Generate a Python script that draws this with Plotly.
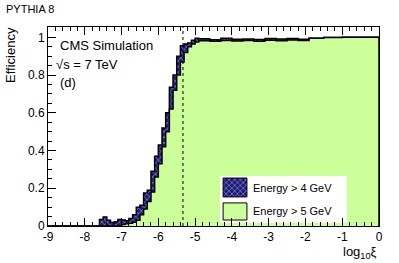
import plotly.graph_objects as go

# ---------------- data ----------------
bin_edges = [-9.0,
             -7.6, -7.5, -7.4, -7.3, -7.2, -7.1, -7.0, -6.9, -6.8, -6.7,
             -6.6, -6.5, -6.4, -6.3, -6.2, -6.1, -6.0, -5.9, -5.8, -5.7,
             -5.6, -5.5, -5.4, -5.3, -5.2, -5.1, -5.0, -4.9,
             -4.6, -4.3, -4.0, -3.7, -3.4, -3.1, -2.8, -2.5, -2.2, -1.9,
             -1.5, -1.0, 0.0]

eff_4gev = [0.0,
            0.035, 0.048, 0.030, 0.018, 0.022, 0.035, 0.032, 0.028, 0.040, 0.060,
            0.100, 0.110, 0.175, 0.190, 0.290, 0.370, 0.430, 0.520, 0.600, 0.735,
            0.800, 0.900, 0.955, 0.965, 0.970, 0.985, 0.995,
            0.993, 0.988, 0.995, 0.990, 0.992, 0.989, 0.994, 0.991, 0.994, 0.990,
            0.996, 0.999, 1.000]

eff_5gev = [0.0,
            0.0, 0.0, 0.0, 0.0, 0.0, 0.0, 0.008, 0.012, 0.015, 0.020,
            0.030, 0.060, 0.090, 0.130, 0.180, 0.260, 0.330, 0.420, 0.500, 0.620,
            0.720, 0.800, 0.870, 0.920, 0.950, 0.965, 0.975,
            0.982, 0.980, 0.984, 0.981, 0.983, 0.980, 0.985, 0.982, 0.986, 0.984,
            0.996, 0.999, 1.000]

cut_position = -5.33

x_tick_vals = [-9, -8, -7, -6, -5, -4, -3, -2, -1, 0]
x_tick_labels = ["-9", "-8", "-7", "-6", "-5", "-4", "-3", "-2", "-1", "0"]
y_tick_vals = [0, 0.2, 0.4, 0.6, 0.8, 1.0]
y_tick_labels = ["0", "0.2", "0.4", "0.6", "0.8", "1"]

series_names = ["Energy > 4 GeV", "Energy > 5 GeV"]

# ---------------- styles ----------------
FONT = "Liberation Sans, Arial, Helvetica, sans-serif"
NAVY = "#1c1c78"
HATCH_FG = "#dcdcff"
GREEN = "#ccff99"


def step_xy(edges, vals):
    xs = list(edges) + [edges[-1]]
    ys = list(vals) + [vals[-1], 0.0]
    return xs, ys


hatch = dict(shape="x", bgcolor=NAVY, fgcolor=HATCH_FG, size=4, solidity=0.35)

fig = go.Figure()

x4, y4 = step_xy(bin_edges, eff_4gev)
fig.add_trace(go.Scatter(x=x4, y=y4, mode="lines", line=dict(shape="hv", color="black", width=1.5),
                         fill="tozeroy", fillcolor=NAVY, fillpattern=hatch,
                         showlegend=False, hoverinfo="skip"))

x5, y5 = step_xy(bin_edges, eff_5gev)
fig.add_trace(go.Scatter(x=x5, y=y5, mode="lines", line=dict(shape="hv", color="black", width=1.5),
                         fill="tozeroy", fillcolor=GREEN,
                         showlegend=False, hoverinfo="skip"))

# ---- manual legend on an overlay axis (0..1 fractions of plot area) ----
def rect(x0, x1, y0, y1):
    return [x0, x1, x1, x0, x0], [y0, y0, y1, y1, y0]

bx, by = rect(0.520, 0.903, 0.015, 0.251)
fig.add_trace(go.Scatter(x=bx, y=by, xaxis="x2", yaxis="y2", mode="lines", fill="toself",
                         fillcolor="white", line=dict(width=0), showlegend=False, hoverinfo="skip"))
sx, sy = rect(0.529, 0.601, 0.146, 0.241)
fig.add_trace(go.Scatter(x=sx, y=sy, xaxis="x2", yaxis="y2", mode="lines", fill="toself",
                         fillcolor=NAVY, fillpattern=hatch, line=dict(color="black", width=1),
                         showlegend=False, hoverinfo="skip"))
sx, sy = rect(0.529, 0.601, 0.030, 0.116)
fig.add_trace(go.Scatter(x=sx, y=sy, xaxis="x2", yaxis="y2", mode="lines", fill="toself",
                         fillcolor=GREEN, line=dict(color="black", width=1),
                         showlegend=False, hoverinfo="skip"))

annotations = [
    dict(text=series_names[0], xref="x2", yref="y2", x=0.613, y=0.190, xanchor="left", yanchor="middle",
         showarrow=False, font=dict(family=FONT, size=11, color="black")),
    dict(text=series_names[1], xref="x2", yref="y2", x=0.613, y=0.075, xanchor="left", yanchor="middle",
         showarrow=False, font=dict(family=FONT, size=11, color="black")),
    dict(text="PYTHIA 8", xref="paper", yref="paper", x=-0.133, y=1.09, xanchor="left", yanchor="middle",
         showarrow=False, font=dict(family=FONT, size=11, color="black")),
    dict(text="Efficiency", xref="paper", yref="paper", x=-0.115, y=1.01, xanchor="center", yanchor="top",
         textangle=-90, showarrow=False, font=dict(family=FONT, size=13, color="black")),
    dict(text="CMS Simulation", xref="paper", yref="paper", x=0.03, y=0.905, xanchor="left", yanchor="middle",
         showarrow=False, font=dict(family=FONT, size=13, color="black")),
    dict(text="\u221as = 7 TeV", xref="paper", yref="paper", x=0.018, y=0.81, xanchor="left", yanchor="middle",
         showarrow=False, font=dict(family=FONT, size=13, color="black")),
    dict(text="(d)", xref="paper", yref="paper", x=0.03, y=0.72, xanchor="left", yanchor="middle",
         showarrow=False, font=dict(family=FONT, size=13, color="black")),
    dict(text="log<sub>10</sub>\u03be", xref="paper", yref="paper", x=0.997, y=-0.135, xanchor="right",
         yanchor="middle", showarrow=False, font=dict(family=FONT, size=13, color="black")),
]

fig.update_layout(
    width=399, height=263,
    margin=dict(l=48, r=20, t=27, b=37),
    paper_bgcolor="white", plot_bgcolor="white",
    font=dict(family=FONT, size=12, color="black"),
    showlegend=False,
    annotations=annotations,
    shapes=[dict(type="line", xref="x", yref="paper", x0=cut_position, x1=cut_position, y0=0, y1=1,
                 line=dict(color="black", width=1, dash="dot"))],
    xaxis=dict(range=[-9, 0], tickvals=x_tick_vals, ticktext=x_tick_labels,
               ticks="inside", ticklen=8, tickwidth=1, tickcolor="black",
               minor=dict(dtick=0.2, ticks="inside", ticklen=4, tickcolor="black", tickwidth=1),
               showline=True, linecolor="black", linewidth=1, mirror="ticks",
               showgrid=False, zeroline=False, tickfont=dict(size=12)),
    yaxis=dict(range=[0, 1.055], tickvals=y_tick_vals, ticktext=y_tick_labels,
               ticks="inside", ticklen=8, tickwidth=1, tickcolor="black",
               minor=dict(dtick=0.05, ticks="inside", ticklen=4, tickcolor="black", tickwidth=1),
               showline=True, linecolor="black", linewidth=1, mirror=True,
               showgrid=False, zeroline=False, tickfont=dict(size=12)),
    xaxis2=dict(overlaying="x", range=[0, 1], visible=False, fixedrange=True),
    yaxis2=dict(overlaying="y", range=[0, 1], visible=False, fixedrange=True),
)

fig.write_html("out.html", config={"displayModeBar": False, "staticPlot": True},
               post_script="document.body.style.margin='0';document.body.style.padding='0';")
